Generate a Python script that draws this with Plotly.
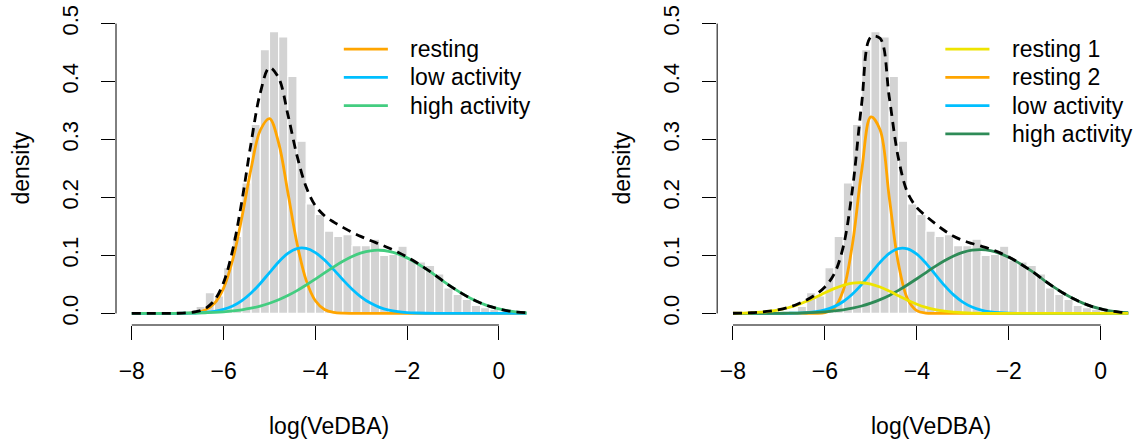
import plotly.graph_objects as go

# ---------------- data ----------------
X_GRID = [-8.0, -7.8, -7.6, -7.4, -7.2, -7.0, -6.8, -6.6, -6.4, -6.2, -6.0,
          -5.8, -5.6, -5.4, -5.2, -5.0, -4.8, -4.6, -4.4, -4.2, -4.0,
          -3.8, -3.6, -3.4, -3.2, -3.0, -2.8, -2.6, -2.4, -2.2, -2.0,
          -1.8, -1.6, -1.4, -1.2, -1.0, -0.8, -0.6, -0.4, -0.2, 0.0,
          0.2, 0.4, 0.6]

# histogram: left edges of 0.2-wide bins and densities
HIST_LEFT = [-6.8, -6.6, -6.4, -6.2, -6.0, -5.8, -5.6, -5.4, -5.2, -5.0,
             -4.8, -4.6, -4.4, -4.2, -4.0, -3.8, -3.6, -3.4, -3.2, -3.0,
             -2.8, -2.6, -2.4, -2.2, -2.0, -1.8, -1.6, -1.4, -1.2, -1.0,
             -0.8, -0.6, -0.4, -0.2, 0.0, 0.2]
HIST_DENSITY = [0.003, 0.012, 0.036, 0.030, 0.079, 0.133, 0.225, 0.326, 0.455, 0.486,
                0.477, 0.409, 0.297, 0.189, 0.171, 0.142, 0.133, 0.136, 0.117, 0.117,
                0.128, 0.100, 0.102, 0.116, 0.092, 0.089, 0.083, 0.068, 0.044, 0.033,
                0.024, 0.014, 0.010, 0.007, 0.004, 0.002]
HIST_WIDTH = 0.2

# left panel: 3-state model
L_RESTING = [0, 0, 0, 0, 0, 0, 0.0004, 0.0016, 0.0057, 0.0173, 0.0437,
             0.093, 0.166, 0.250, 0.316, 0.336, 0.294, 0.209, 0.121, 0.057, 0.0218,
             0.0068, 0.0017, 0.0004, 0.0001, 0, 0, 0, 0, 0, 0,
             0, 0, 0, 0, 0, 0, 0, 0, 0, 0,
             0, 0, 0]
L_LOW = [0, 0, 0, 0, 0, 0.0001, 0.0003, 0.0007, 0.0016, 0.0035, 0.0070,
         0.0129, 0.0221, 0.0352, 0.0517, 0.0704, 0.0888, 0.1036, 0.1119, 0.1121, 0.1049,
         0.0920, 0.0755, 0.0581, 0.0418, 0.0282, 0.0178, 0.0105, 0.0058, 0.0030, 0.0015,
         0.0007, 0.0003, 0.0001, 0, 0, 0, 0, 0, 0, 0,
         0, 0, 0]
L_HIGH = [0.0000, 0.0000, 0.0000, 0.0001, 0.0001, 0.0002, 0.0004, 0.0006, 0.0011, 0.0017, 0.0027,
          0.0042, 0.0062, 0.0090, 0.0127, 0.0176, 0.0236, 0.0308, 0.0393, 0.0489, 0.0592,
          0.0698, 0.0803, 0.0899, 0.0981, 0.1043, 0.1080, 0.1090, 0.1071, 0.1026, 0.0958,
          0.0871, 0.0772, 0.0666, 0.0548, 0.0440, 0.0341, 0.0254, 0.0180, 0.0121, 0.0078,
          0.0045, 0.0024, 0.0011]
L_TOTAL = [0.0000, 0.0000, 0.0000, 0.0001, 0.0001, 0.0003, 0.0011, 0.0029, 0.0084, 0.0225, 0.0534,
           0.1101, 0.1943, 0.2942, 0.3804, 0.4240, 0.4064, 0.3434, 0.2722, 0.2180, 0.1859,
           0.1686, 0.1575, 0.1484, 0.1400, 0.1325, 0.1258, 0.1195, 0.1129, 0.1056, 0.0973,
           0.0878, 0.0775, 0.0667, 0.0548, 0.0440, 0.0341, 0.0254, 0.0180, 0.0121, 0.0078,
           0.0045, 0.0024, 0.0011]

# right panel: 4-state model
R_RESTING1 = [0.0003, 0.0006, 0.0011, 0.0021, 0.0037, 0.0062, 0.0098, 0.0147, 0.0209, 0.0280, 0.0355,
              0.0427, 0.0484, 0.0521, 0.0529, 0.0507, 0.0456, 0.0385, 0.0305, 0.0228, 0.0159,
              0.0105, 0.0065, 0.0038, 0.0021, 0.0011, 0.0005, 0.0002, 0.0001, 0, 0,
              0, 0, 0, 0, 0, 0, 0, 0, 0, 0,
              0, 0, 0]
R_RESTING2 = [0, 0, 0, 0, 0, 0, 0, 0, 0, 0.0001, 0.0014,
              0.009, 0.040, 0.120, 0.246, 0.339, 0.317, 0.200, 0.0855, 0.0247, 0.0048,
              0.0006, 0.0001, 0, 0, 0, 0, 0, 0, 0, 0,
              0, 0, 0, 0, 0, 0, 0, 0, 0, 0,
              0, 0, 0]
R_LOW = [0, 0, 0, 0, 0, 0.0001, 0.0002, 0.0005, 0.0013, 0.0029, 0.0061,
         0.0117, 0.0206, 0.0335, 0.0502, 0.0693, 0.0881, 0.1034, 0.1117, 0.1112, 0.1021,
         0.0864, 0.0673, 0.0484, 0.0320, 0.0195, 0.0110, 0.0057, 0.0027, 0.0012, 0.0005,
         0.0002, 0.0001, 0, 0, 0, 0, 0, 0, 0, 0,
         0, 0, 0]
R_HIGH = [0.0000, 0.0000, 0.0000, 0.0001, 0.0001, 0.0002, 0.0004, 0.0006, 0.0011, 0.0017, 0.0027,
          0.0042, 0.0063, 0.0091, 0.0128, 0.0178, 0.0238, 0.0311, 0.0397, 0.0494, 0.0598,
          0.0705, 0.0811, 0.0908, 0.0991, 0.1053, 0.1091, 0.1101, 0.1082, 0.1036, 0.0968,
          0.0880, 0.0780, 0.0673, 0.0553, 0.0444, 0.0344, 0.0257, 0.0182, 0.0122, 0.0079,
          0.0045, 0.0024, 0.0011]
R_TOTAL = [0.0003, 0.0006, 0.0011, 0.0022, 0.0038, 0.0065, 0.0104, 0.0158, 0.0233, 0.0327, 0.0457,
           0.0676, 0.1153, 0.2147, 0.3619, 0.4768, 0.4745, 0.3730, 0.2674, 0.2081, 0.1826,
           0.1680, 0.1550, 0.1430, 0.1332, 0.1259, 0.1206, 0.1160, 0.1110, 0.1048, 0.0973,
           0.0882, 0.0781, 0.0673, 0.0553, 0.0444, 0.0344, 0.0257, 0.0182, 0.0122, 0.0079,
           0.0045, 0.0024, 0.0011]

X_TICKS = [-8, -6, -4, -2, 0]
X_TICKTEXT = ["\u22128", "\u22126", "\u22124", "\u22122", "0"]
Y_TICKS = [0.0, 0.1, 0.2, 0.3, 0.4, 0.5]
Y_TICKTEXT = ["0.0", "0.1", "0.2", "0.3", "0.4", "0.5"]

LEFT_LEGEND = ["resting", "low activity", "high activity"]
RIGHT_LEGEND = ["resting 1", "resting 2", "low activity", "high activity"]

# ---------------- style ----------------
ORANGE = "#FFA500"
BLUE = "#00BFFF"
GREEN_L = "#43CD80"
GREEN_R = "#2E8B57"
YELLOW = "#EEE400"
BAR = "#D3D3D3"
FONT = "Liberation Sans, Arial, Helvetica, sans-serif"
FS = 23
FS_Y = 22
LW = 2.8

W, H = 1137, 439
ML, MR, MT, MB = 116, 0, 12, 114
XL_DOM = [0.0, 0.4175]
XR_DOM = [0.5888, 1.0]
XL_RANGE = [-8.344, 0.944]
XR_RANGE = [-8.344, 0.79]
Y_RANGE = [-0.02, 0.52]

fig = go.Figure()

centers = [e + HIST_WIDTH / 2 for e in HIST_LEFT]
for xa, ya in (("x", "y"), ("x2", "y2")):
    fig.add_trace(go.Bar(x=centers, y=HIST_DENSITY, width=HIST_WIDTH,
                         marker=dict(color=BAR, line=dict(color="white", width=1.2)),
                         xaxis=xa, yaxis=ya, showlegend=False, hoverinfo="skip"))


def curve(y, color, xa, ya, dash="solid"):
    fig.add_trace(go.Scatter(x=X_GRID, y=y, mode="lines",
                             line=dict(color=color, width=LW, shape="spline",
                                       smoothing=1.0, dash=dash),
                             xaxis=xa, yaxis=ya, showlegend=False, hoverinfo="skip"))


curve(L_RESTING, ORANGE, "x", "y")
curve(L_LOW, BLUE, "x", "y")
curve(L_HIGH, GREEN_L, "x", "y")
curve(L_TOTAL, "black", "x", "y", dash="9px,6px")

curve(R_RESTING2, ORANGE, "x2", "y2")
curve(R_LOW, BLUE, "x2", "y2")
curve(R_HIGH, GREEN_R, "x2", "y2")
curve(R_RESTING1, YELLOW, "x2", "y2")
curve(R_TOTAL, "black", "x2", "y2", dash="9px,6px")

axis_common = dict(showgrid=False, zeroline=False, showline=False, ticks="outside",
                   ticklen=14, tickwidth=1, tickcolor="black")
xtf = dict(family=FONT, size=FS, color="black")
ytf = dict(family=FONT, size=FS_Y, color="black")

fig.update_layout(
    width=W, height=H, margin=dict(l=ML, r=MR, t=MT, b=MB),
    paper_bgcolor="white", plot_bgcolor="white", barmode="overlay",
    font=dict(family=FONT, size=FS, color="black"),
    xaxis=dict(domain=XL_DOM, range=XL_RANGE, tickvals=X_TICKS, ticktext=X_TICKTEXT,
               anchor="y", ticklabelstandoff=11, tickfont=xtf, **axis_common),
    yaxis=dict(domain=[0, 1], range=Y_RANGE, tickvals=Y_TICKS, ticktext=Y_TICKTEXT,
               anchor="x", tickangle=-90, ticklabelstandoff=14, tickfont=ytf, **axis_common),
    xaxis2=dict(domain=XR_DOM, range=XR_RANGE, tickvals=X_TICKS, ticktext=X_TICKTEXT,
                anchor="y2", ticklabelstandoff=11, tickfont=xtf, **axis_common),
    yaxis2=dict(domain=[0, 1], range=Y_RANGE, tickvals=Y_TICKS, ticktext=Y_TICKTEXT,
                anchor="x2", tickangle=-90, ticklabelstandoff=14, tickfont=ytf, **axis_common),
    showlegend=False,
)


def frac_x(v, dom, rng):
    return dom[0] + (v - rng[0]) / (rng[1] - rng[0]) * (dom[1] - dom[0])


def frac_y(v):
    return (v - Y_RANGE[0]) / (Y_RANGE[1] - Y_RANGE[0])


shapes = []
annotations = []
for dom, rng in ((XL_DOM, XL_RANGE), (XR_DOM, XR_RANGE)):
    # R-style axis lines spanning only the tick range
    shapes.append(dict(type="line", xref="paper", yref="paper",
                       x0=frac_x(X_TICKS[0], dom, rng), x1=frac_x(X_TICKS[-1], dom, rng),
                       y0=0, y1=0, line=dict(color="black", width=1)))
    shapes.append(dict(type="line", xref="paper", yref="paper",
                       x0=dom[0], x1=dom[0], y0=frac_y(Y_TICKS[0]), y1=frac_y(Y_TICKS[-1]),
                       line=dict(color="black", width=1)))

# axis titles
pw = W - ML - MR
ph = H - MT - MB
for xc_px, yc_px in ((329.3, 426), (930.8, 426)):
    annotations.append(dict(text="log(VeDBA)", xref="paper", yref="paper",
                            x=(xc_px - ML) / pw, y=(H - MB - yc_px) / ph,
                            xanchor="center", yanchor="middle", showarrow=False,
                            font=dict(family=FONT, size=FS, color="black")))
for xc_px in (20, 621):
    annotations.append(dict(text="density", xref="paper", yref="paper",
                            x=(xc_px - ML) / pw, y=0.5, textangle=-90,
                            xanchor="center", yanchor="middle", showarrow=False,
                            font=dict(family=FONT, size=FS, color="black")))

# manual R-style legends
LEG_X0, LEG_X1, LEG_TX = -3.38, -2.42, -1.98
LEG_Y0, LEG_DY = 0.456, 0.0487
for xa, ya, labels, colors in (("x", "y", LEFT_LEGEND, [ORANGE, BLUE, GREEN_L]),
                               ("x2", "y2", RIGHT_LEGEND, [YELLOW, ORANGE, BLUE, GREEN_R])):
    for i, (lab, col) in enumerate(zip(labels, colors)):
        yy = LEG_Y0 - i * LEG_DY
        shapes.append(dict(type="line", xref=xa, yref=ya, x0=LEG_X0, x1=LEG_X1,
                           y0=yy, y1=yy, line=dict(color=col, width=LW)))
        annotations.append(dict(text=lab, xref=xa, yref=ya, x=LEG_TX, y=yy,
                                xanchor="left", yanchor="middle", showarrow=False,
                                font=dict(family=FONT, size=FS, color="black")))

fig.update_layout(shapes=shapes, annotations=annotations)
fig.write_html("out.html", config={"displayModeBar": False, "staticPlot": True},
               post_script="document.body.style.margin='0';document.body.style.overflow='hidden';")
